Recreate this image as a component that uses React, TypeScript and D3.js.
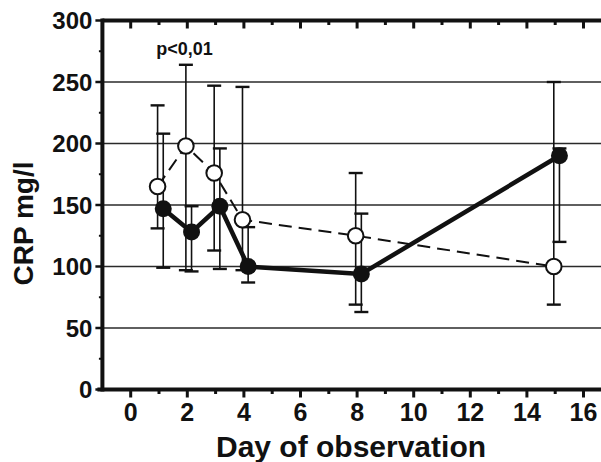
import React from "react";
import * as d3 from "d3";

// ---- data ----
const openDays = [0.95, 1.95, 2.95, 3.95, 7.95, 14.95];
const openMean = [165, 198, 176, 138, 125, 100];
const openUpper = [231, 264, 247, 246, 176, 250];
const openLower = [131, 97, 113, 97, 69, 69];

const filledDays = [1.15, 2.15, 3.15, 4.15, 8.15, 15.15];
const filledMean = [147, 128, 149, 100, 94, 190];
const filledUpper = [208, 149, 196, 132, 143, 196];
const filledLower = [99, 96, 98, 87, 63, 120];

const yTicks = [0, 50, 100, 150, 200, 250, 300];
const yMinorTicks = [25, 75, 125, 175, 225, 275];
const xTicks = [0, 2, 4, 6, 8, 10, 12, 14, 16];
const xMinorTicks = [1, 3, 5, 7, 9, 11, 13, 15];
const gridValues = [50, 100, 150, 200, 250];

const yLabel = "CRP mg/l";
const xLabel = "Day of observation";
const annotation = "p<0,01";
const annotationDay = 1.9;
const annotationValue = 272;

const W = 601;
const H = 462;
const FONT = "'Liberation Sans', Arial, Helvetica, sans-serif";

export default function App() {
  const x = d3.scaleLinear().domain([-1, 16]).range([102.4, 583.5]);
  const y = d3.scaleLinear().domain([0, 300]).range([389.5, 20.5]);
  const x0 = x(-1);
  const yBottom = y(0);
  const yTop = y(300);

  const openPts = openDays.map((d, i) => [d, openMean[i]] as [number, number]);
  const filledPts = filledDays.map((d, i) => [d, filledMean[i]] as [number, number]);
  const line = d3
    .line<[number, number]>()
    .x((d) => x(d[0]))
    .y((d) => y(d[1]));

  const capHalf = 7;

  const errBars = (days: number[], up: number[], lo: number[], key: string) =>
    days.map((d, i) => (
      <g key={key + i} stroke="#111" fill="none">
        <line x1={x(d)} x2={x(d)} y1={y(up[i])} y2={y(lo[i])} strokeWidth={1.6} />
        <line x1={x(d) - capHalf} x2={x(d) + capHalf} y1={y(up[i])} y2={y(up[i])} strokeWidth={2.4} />
        <line x1={x(d) - capHalf} x2={x(d) + capHalf} y1={y(lo[i])} y2={y(lo[i])} strokeWidth={2.4} />
      </g>
    ));

  return (
    <svg
      width={W}
      height={H}
      style={{ position: "absolute", left: 0, top: 0, background: "#fff" }}
      fontFamily={FONT}
    >
      <rect x={0} y={0} width={W} height={H} fill="#fff" />
      {/* grid lines */}
      {gridValues.map((v) => (
        <line key={"g" + v} x1={x0} x2={W} y1={y(v)} y2={y(v)} stroke="#2a2a2a" strokeWidth={1.3} />
      ))}

      {/* error bars */}
      {errBars(openDays, openUpper, openLower, "eo")}
      {errBars(filledDays, filledUpper, filledLower, "ef")}

      {/* series lines */}
      <path d={line(openPts) || ""} fill="none" stroke="#111" strokeWidth={2} strokeDasharray="13,7" />
      <path d={line(filledPts) || ""} fill="none" stroke="#111" strokeWidth={4.5} strokeLinejoin="round" />

      {/* markers */}
      {openPts.map((p, i) => (
        <circle key={"o" + i} cx={x(p[0])} cy={y(p[1])} r={7.8} fill="#fff" stroke="#111" strokeWidth={2} />
      ))}
      {filledPts.map((p, i) => (
        <circle key={"f" + i} cx={x(p[0])} cy={y(p[1])} r={8.5} fill="#111" />
      ))}

      {/* frame: top and left / bottom axes */}
      <line x1={x0} x2={W} y1={yTop} y2={yTop} stroke="#111" strokeWidth={4} />
      <line x1={x0} x2={x0} y1={yTop - 2} y2={yBottom + 2} stroke="#111" strokeWidth={4} />
      <line x1={x0 - 5} x2={W} y1={yBottom} y2={yBottom} stroke="#111" strokeWidth={4} />

      {/* y ticks */}
      {yTicks.map((v) => (
        <line key={"yt" + v} x1={x0 - 7} x2={x0} y1={y(v)} y2={y(v)} stroke="#111" strokeWidth={2.5} />
      ))}
      {yMinorTicks.map((v) => (
        <line key={"ym" + v} x1={x0 - 3.5} x2={x0} y1={y(v)} y2={y(v)} stroke="#111" strokeWidth={2} />
      ))}
      {yTicks.map((v) => (
        <text
          key={"yl" + v}
          x={x0 - 10}
          y={y(v)}
          dy="0.36em"
          textAnchor="end"
          fontSize={24}
          fontWeight="bold"
          fill="#111"
        >
          {v}
        </text>
      ))}

      {/* x ticks bottom */}
      {xTicks.map((v) => (
        <line key={"xt" + v} x1={x(v)} x2={x(v)} y1={yBottom} y2={yBottom + 8} stroke="#111" strokeWidth={3} />
      ))}
      {xMinorTicks.map((v) => (
        <line key={"xm" + v} x1={x(v)} x2={x(v)} y1={yBottom} y2={yBottom + 4.5} stroke="#111" strokeWidth={3} />
      ))}
      {/* x ticks top (inward) */}
      {xTicks.map((v) => (
        <line key={"tt" + v} x1={x(v)} x2={x(v)} y1={yTop} y2={yTop + 8} stroke="#111" strokeWidth={3} />
      ))}
      {xMinorTicks.map((v) => (
        <line key={"tm" + v} x1={x(v)} x2={x(v)} y1={yTop} y2={yTop + 4.5} stroke="#111" strokeWidth={3} />
      ))}
      {xTicks.map((v) => (
        <text key={"xl" + v} x={x(v)} y={421} textAnchor="middle" fontSize={25} fontWeight="bold" fill="#111">
          {v}
        </text>
      ))}

      {/* axis titles */}
      <text x={351} y={457} textAnchor="middle" fontSize={30} fontWeight="bold" fill="#111">
        {xLabel}
      </text>
      <text
        transform={`translate(33,${y(135)}) rotate(-90)`}
        textAnchor="middle"
        fontSize={28}
        fontWeight="bold"
        fill="#111"
      >
        {yLabel}
      </text>

      {/* annotation */}
      <text
        x={x(annotationDay)}
        y={y(annotationValue)}
        textAnchor="middle"
        fontSize={18}
        fontWeight="bold"
        fill="#111"
      >
        {annotation}
      </text>
    </svg>
  );
}
